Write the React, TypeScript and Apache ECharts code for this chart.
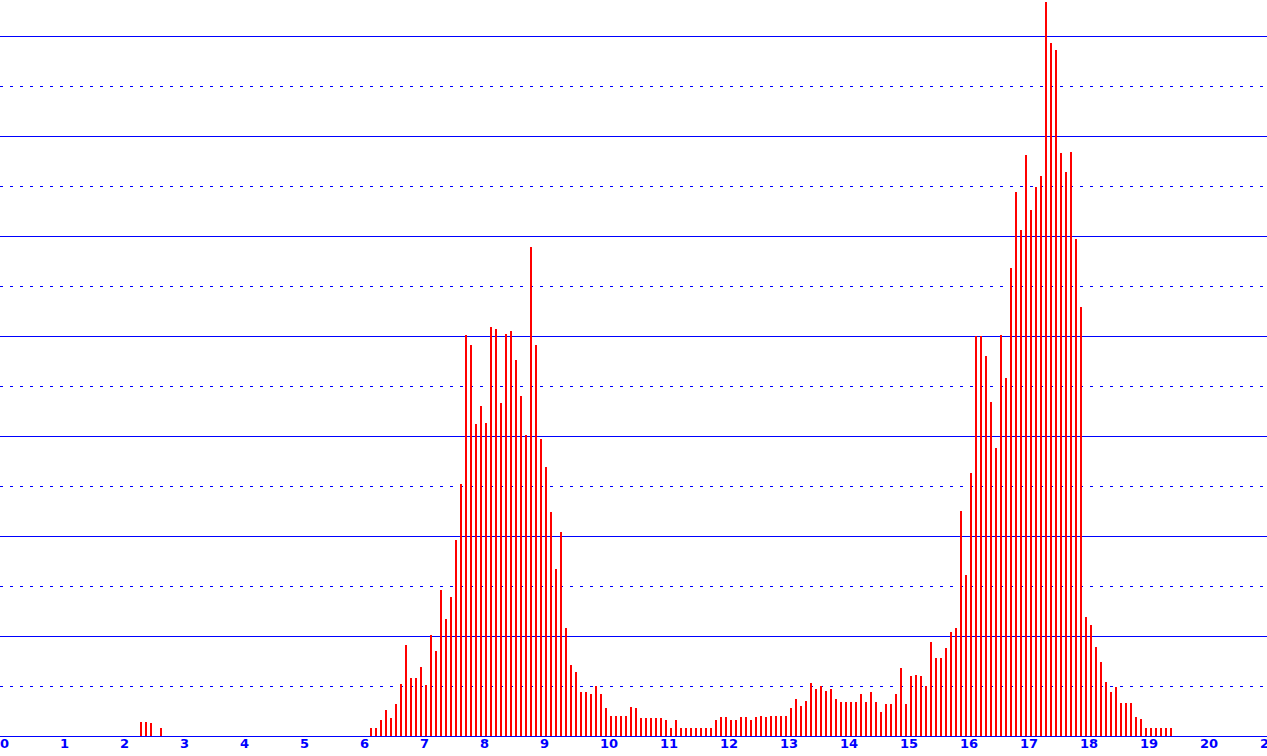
import React, { useEffect, useRef } from "react";
import * as echarts from "echarts";

// Bin width on the x axis (12 bins per unit)
const BIN_STEP = 1 / 12;

// Small early cluster (bins 28..32)
const earlyStartBin = 28;
const earlyValues = [14, 14, 13, 0, 8];

// Main body of the histogram (bins 74..234)
const mainStartBin = 74;
const mainValues = [
  8, 8, 16, 26, 18, 32, 52,
  91, 58, 58, 69, 51, 101, 85, 146, 117, 139,
  196, 252, 401, 391, 312, 330, 313, 409, 407, 333,
  402, 405, 376, 340, 301, 489, 391, 297, 269, 224,
  167, 204, 108, 71, 64, 44, 44, 42, 50, 42,
  28, 20, 20, 20, 20, 29, 28, 18, 18, 18,
  18, 18, 16, 8, 16, 8, 8, 8, 8, 8,
  8, 8, 16, 19, 19, 16, 16, 19, 19, 16,
  19, 20, 19, 20, 20, 20, 20, 28, 37, 30,
  35, 53, 47, 50, 45, 47, 37, 34, 34, 34,
  34, 42, 34, 44, 34, 24, 32, 32, 42, 68,
  32, 60, 61, 60, 50, 94, 78, 78, 88, 104,
  108, 225, 161, 263, 400, 400, 380, 334, 288, 401,
  358, 468, 544, 506, 581, 526, 549, 560, 734, 693,
  686, 583, 564, 584, 497, 429, 119, 111, 89, 74,
  54, 44, 49, 33, 33, 33, 19, 17, 8, 8,
  8, 8, 8, 8,
];

const xTickLabels = [
  "0", "1", "2", "3", "4", "5", "6", "7", "8", "9", "10",
  "11", "12", "13", "14", "15", "16", "17", "18", "19", "20", "21",
];

const BLUE = "#0000ff";
const RED = "#ff0000";

function toPoints(start: number, values: number[]) {
  return values
    .map((v, i) => [(start + i + 0.2) * BIN_STEP, v])
    .filter((p) => p[1] > 0);
}

export default function App() {
  const ref = useRef<HTMLDivElement>(null);

  useEffect(() => {
    if (!ref.current) return;
    const chart = echarts.init(ref.current, undefined, { renderer: "svg" });
    const data = [
      ...toPoints(earlyStartBin, earlyValues),
      ...toPoints(mainStartBin, mainValues),
    ];
    const Y_MAX = 736;
    chart.setOption({
      animation: false,
      backgroundColor: "#ffffff",
      grid: {
        left: 0,
        right: 0,
        top: 0,
        bottom: 20,
        containLabel: false,
        outerBoundsMode: "none",
      },
      xAxis: {
        type: "value",
        min: 0,
        max: 1267 / 60,
        interval: 1,
        axisLine: { show: true, lineStyle: { color: BLUE, width: 1 } },
        axisTick: { show: false },
        splitLine: { show: false },
        axisLabel: {
          show: true,
          color: BLUE,
          fontFamily: "DejaVu Sans",
          fontWeight: "bold",
          fontSize: 13,
          align: "left",
          margin: 1,
          showMinLabel: true,
          showMaxLabel: true,
          hideOverlap: false,
          formatter: (v: number) =>
            Number.isInteger(v) && xTickLabels[v] !== undefined ? xTickLabels[v] : "",
        },
      },
      yAxis: [
        {
          type: "value",
          min: 0,
          max: Y_MAX,
          interval: 100,
          axisLine: { show: false },
          axisTick: { show: false },
          axisLabel: { show: false },
          splitLine: {
            show: true,
            showMinLine: false,
            showMaxLine: false,
            lineStyle: { color: BLUE, width: 1, type: "solid" },
          },
        },
        {
          type: "value",
          min: 0,
          max: Y_MAX,
          interval: 50,
          position: "left",
          axisLine: { show: false },
          axisTick: { show: false },
          axisLabel: { show: false },
          splitLine: {
            show: true,
            showMinLine: false,
            showMaxLine: false,
            lineStyle: { color: BLUE, width: 1, type: [3, 7] },
          },
        },
      ],
      series: [
        {
          type: "bar",
          yAxisIndex: 0,
          data,
          barWidth: 2,
          itemStyle: { color: RED },
          silent: true,
          z: 3,
        },
      ],
    });
    return () => chart.dispose();
  }, []);

  return (
    <div
      ref={ref}
      style={{ position: "fixed", left: 0, top: 0, width: 1267, height: 756 }}
    />
  );
}
